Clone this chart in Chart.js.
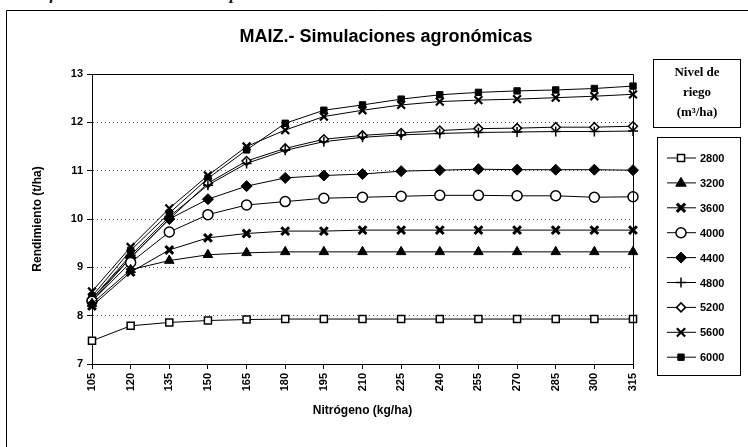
<!DOCTYPE html>
<html>
<head>
<meta charset="utf-8">
<script src="https://cdn.jsdelivr.net/npm/chart.js@4.4.1/dist/chart.umd.min.js"></script>
<style>
  html, body { margin: 0; padding: 0; background: #fff; }
  #wrap { position: relative; width: 748px; height: 447px; overflow: hidden; }
  #caption { position: absolute; left: 22px; top: -16px; font: italic bold 17px "Liberation Serif", serif; color: #111; white-space: nowrap; }
  #myChart { position: absolute; left: 0; top: 0; }
</style>
</head>
<body>
<div id="wrap">
  <div id="caption">Gráfico 3.- Resultados de la aplicación del modelo EPIC al cultivo de maíz</div>
  <canvas id="myChart" width="748" height="447"></canvas>
</div>
<script>
// datos
const nitrogeno = ['105','120','135','150','165','180','195','210','225','240','255','270','285','300','315']
const niveles = ['2800','3200','3600','4000','4400','4800','5200','5600','6000']

const r2800 = [7.48, 7.79, 7.86, 7.90, 7.92, 7.93, 7.93, 7.93, 7.93, 7.93, 7.93, 7.93, 7.93, 7.93, 7.93]
const r3200 = [8.25, 8.95, 9.14, 9.26, 9.30, 9.32, 9.32, 9.32, 9.32, 9.32, 9.32, 9.32, 9.32, 9.32, 9.32]
const r3600 = [8.20, 8.90, 9.36, 9.61, 9.70, 9.75, 9.75, 9.77, 9.77, 9.77, 9.77, 9.77, 9.77, 9.77, 9.77]
const r4000 = [8.30, 9.10, 9.73, 10.09, 10.29, 10.36, 10.43, 10.45, 10.47, 10.49, 10.49, 10.48, 10.48, 10.45, 10.46]
const r4400 = [8.30, 9.20, 10.00, 10.41, 10.68, 10.85, 10.90, 10.93, 10.99, 11.01, 11.03, 11.02, 11.02, 11.02, 11.01]
const r4800 = [8.35, 9.25, 10.05, 10.70, 11.15, 11.42, 11.60, 11.69, 11.74, 11.77, 11.79, 11.80, 11.81, 11.81, 11.82]
const r5200 = [8.35, 9.20, 10.00, 10.74, 11.20, 11.46, 11.65, 11.73, 11.78, 11.83, 11.87, 11.88, 11.90, 11.90, 11.92]
const r5600 = [8.50, 9.42, 10.22, 10.90, 11.50, 11.84, 12.12, 12.25, 12.36, 12.43, 12.46, 12.48, 12.51, 12.54, 12.58]
const r6000 = [8.40, 9.35, 10.12, 10.84, 11.43, 11.98, 12.25, 12.36, 12.48, 12.57, 12.62, 12.65, 12.67, 12.70, 12.75]

const valores = [r2800, r3200, r3600, r4000, r4400, r4800, r5200, r5600, r6000]
// marcador de cada serie
const estilos = [
  {pointStyle:'rect', radius:5, fill:'#fff', bw:1.5},
  {pointStyle:'triangle', radius:5.5, fill:'#000', bw:1},
  {pointStyle:'crossRot', radius:5.5, fill:'#000', bw:3},
  {pointStyle:'circle', radius:5, fill:'#fff', bw:1.5},
  {pointStyle:'rectRot', radius:5.5, fill:'#000', bw:1},
  {pointStyle:'cross', radius:5, fill:'#000', bw:1.5},
  {pointStyle:'rectRot', radius:4.5, fill:'#fff', bw:1.5},
  {pointStyle:'crossRot', radius:5.5, fill:'#000', bw:2.2},
  {pointStyle:'rect', radius:4.5, fill:'#000', bw:1}
]

const letra = '"Liberation Sans Narrow", "Liberation Sans", Arial, sans-serif'

const datasets = niveles.map(function (n, i) {
  return {
    label: n,
    data: valores[i],
    borderColor: '#000',
    borderWidth: 1,
    pointStyle: estilos[i].pointStyle,
    pointRadius: estilos[i].radius,
    pointBackgroundColor: estilos[i].fill,
    pointBorderColor: '#000',
    pointBorderWidth: estilos[i].bw,
    tension: 0
  }
})

// dibuja un marcador de la leyenda
function marcador(ctx, estilo, r, x, y) {
  ctx.beginPath()
  if (estilo == 'rect') {
    const s = r * Math.SQRT1_2 * 2
    ctx.rect(x - s / 2, y - s / 2, s, s)
  } else if (estilo == 'rectRot') {
    ctx.moveTo(x, y - r); ctx.lineTo(x + r, y); ctx.lineTo(x, y + r); ctx.lineTo(x - r, y); ctx.closePath()
  } else if (estilo == 'circle') {
    ctx.arc(x, y, r, 0, Math.PI * 2)
  } else if (estilo == 'triangle') {
    ctx.moveTo(x, y - r); ctx.lineTo(x + r * 0.95, y + r * 0.6); ctx.lineTo(x - r * 0.95, y + r * 0.6); ctx.closePath()
  } else if (estilo == 'cross') {
    ctx.moveTo(x, y - r); ctx.lineTo(x, y + r); ctx.moveTo(x - r, y); ctx.lineTo(x + r, y)
    ctx.stroke(); return
  } else if (estilo == 'crossRot') {
    const d = r * 0.75
    ctx.moveTo(x - d, y - d); ctx.lineTo(x + d, y + d); ctx.moveTo(x + d, y - d); ctx.lineTo(x - d, y + d)
    ctx.stroke(); return
  }
  ctx.fill(); ctx.stroke()
}

// marco, titulo y leyenda
const decoracion = {
  id: 'decoracion',
  afterDraw(chart) {
    const ctx = chart.ctx
    const a = chart.chartArea
    ctx.save()
    ctx.strokeStyle = '#000'
    ctx.lineWidth = 1
    // marco exterior
    ctx.beginPath()
    ctx.moveTo(6.5, 447); ctx.lineTo(6.5, 10.5); ctx.lineTo(748, 10.5)
    ctx.stroke()
    // borde del area de trazado
    ctx.beginPath()
    ctx.moveTo(a.left, a.top + 0.5); ctx.lineTo(a.right + 0.5, a.top + 0.5); ctx.lineTo(a.right + 0.5, a.bottom)
    ctx.stroke()
    // titulo
    ctx.fillStyle = '#000'
    ctx.font = 'bold 18px "Liberation Sans", Arial, sans-serif'
    ctx.textAlign = 'center'
    ctx.textBaseline = 'middle'
    ctx.fillText('MAIZ.- Simulaciones agronómicas', 386, 37)
    // cuadro titulo leyenda
    ctx.strokeRect(653.5, 59.5, 87, 68)
    ctx.font = 'bold 13px "Liberation Serif", serif'
    ctx.fillText('Nivel de', 697, 73)
    ctx.fillText('riego', 697, 93)
    ctx.fillText('(m³/ha)', 697, 113)
    // cuadro leyenda
    ctx.strokeRect(657.5, 137.5, 83, 238)
    ctx.font = 'bold 11px ' + letra
    ctx.textAlign = 'left'
    chart.data.datasets.forEach(function (ds, i) {
      const y = 158 + i * 24.9
      ctx.beginPath()
      ctx.moveTo(667, y); ctx.lineTo(696, y)
      ctx.lineWidth = 1
      ctx.strokeStyle = '#000'
      ctx.stroke()
      ctx.fillStyle = ds.pointBackgroundColor
      ctx.lineWidth = ds.pointBorderWidth
      marcador(ctx, ds.pointStyle, ds.pointRadius, 681, y)
      ctx.fillStyle = '#000'
      ctx.fillText(ds.label, 700, y + 1)
    })
    ctx.restore()
  }
}

const canvas = document.getElementById('myChart')
const myChart = new Chart(canvas.getContext('2d'), {
  type: 'line',
  data: { labels: nitrogeno, datasets: datasets },
  plugins: [decoracion],
  options: {
    responsive: false,
    animation: false,
    layout: { padding: { left: 26, right: 115, top: 74, bottom: 25 } },
    plugins: { legend: { display: false }, tooltip: { enabled: false } },
    scales: {
      x: {
        offset: false,
        grid: { drawOnChartArea: false, drawTicks: true, tickLength: 5, color: '#000' },
        border: { color: '#000', width: 1 },
        ticks: { color: '#000', minRotation: 90, maxRotation: 90, padding: 4, autoSkip: false, font: { family: letra, size: 11, weight: 'bold' } },
        title: { display: true, text: 'Nitrógeno (kg/ha)', color: '#000', padding: { top: 0, bottom: 4 }, font: { family: letra, size: 12, weight: 'bold' } },
        afterFit: function (s) { s.height = 58 }
      },
      y: {
        min: 7, max: 13,
        grid: { color: '#555', tickLength: 5, tickColor: '#000' },
        border: { color: '#000', width: 1, dash: [1, 3] },
        ticks: { stepSize: 1, color: '#000', padding: 4, font: { family: letra, size: 11, weight: 'bold' } },
        title: { display: true, text: 'Rendimiento (t/ha)', color: '#000', padding: { top: 4, bottom: 0 }, font: { family: letra, size: 12, weight: 'bold' } },
        afterFit: function (s) { s.width = 66 }
      }
    }
  }
})
</script>
</body>
</html>
